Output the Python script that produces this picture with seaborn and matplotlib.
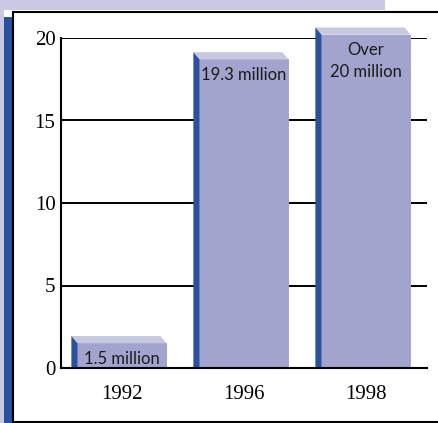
import matplotlib
matplotlib.use("Agg")
import matplotlib.pyplot as plt
from matplotlib.patches import Polygon, Rectangle
import seaborn as sns
import pandas as pd

# data
years = ["1992", "1996", "1998"]
heights = [1.5, 18.7, 20.2]          # drawn heights (millions)
bar_labels = ["1.5 million", "19.3 million", "Over\n20 million"]
y_ticks = [0, 5, 10, 15, 20]

face = "#a3a4cd"
side = "#2b519c"
top = "#c8c8e2"
lavender = "#c9c9e3"

sns.set_theme(style="white")
plt.rcParams["font.family"] = ["Liberation Serif", "DejaVu Serif"]

fig = plt.figure(figsize=(4.38, 4.23), dpi=100, facecolor="white")

# frame decoration (figure coords)
W, H = 438.0, 423.0
fig.patches.append(Rectangle((0, 0), 4 / W, 1, transform=fig.transFigure,
                             facecolor=lavender, edgecolor="none", zorder=0))
fig.patches.append(Rectangle((0, 1 - 10 / H), 385 / W, 10 / H, transform=fig.transFigure,
                             facecolor=lavender, edgecolor="none", zorder=0))
fig.patches.append(Rectangle((4 / W, 0), 8 / W, 1 - 17 / H, transform=fig.transFigure,
                             facecolor=side, edgecolor="none", zorder=1))
fig.patches.append(Rectangle((12.5 / W, 1.5 / H), 440 / W, (421 - 10.5 - 1.5) / H,
                             transform=fig.transFigure, facecolor="white",
                             edgecolor="black", linewidth=1.5, zorder=2))

ax = fig.add_axes([61 / W, 55 / H, 366 / W, 330 / H])
ax.set_facecolor("none")
ax.set_zorder(3)

df = pd.DataFrame({"year": years, "value": heights})
sns.barplot(data=df, x="year", y="value", color=face, saturation=1,
            width=0.73, linewidth=0, ax=ax, zorder=3)

ax.set_xlim(-0.5, 2.5)
ax.set_ylim(0, 20)
ax.set_yticks(y_ticks)
ax.set_xlabel("")
ax.set_ylabel("")

for y in y_ticks[1:]:
    ax.axhline(y, color="black", linewidth=1.4, zorder=1)

# 3D look: left face and top face offset up-left
dx, dy = -0.05, 0.44
for p, lab in zip(ax.patches, bar_labels):
    p.set_clip_on(False)
    x0 = p.get_x()
    w = p.get_width()
    h = p.get_height()
    top_poly = Polygon([(x0 + dx, h + dy), (x0 + w + dx, h + dy), (x0 + w, h), (x0, h)],
                       closed=True, facecolor=top, edgecolor="none", zorder=4, clip_on=False)
    side_poly = Polygon([(x0 + dx, 0), (x0 + dx, h + dy), (x0, h), (x0, 0)],
                        closed=True, facecolor=side, edgecolor="none", zorder=4, clip_on=False)
    ax.add_patch(top_poly)
    ax.add_patch(side_poly)
    ax.annotate(lab, (x0 + w / 2, h), xytext=(0, -5.5), textcoords="offset points",
                ha="center", va="top", fontsize=12, family=["Lato", "DejaVu Sans"],
                color="#1a1a1a", linespacing=1.4, zorder=5, annotation_clip=False)

for s in ["top", "right"]:
    ax.spines[s].set_visible(False)
for s in ["left", "bottom"]:
    ax.spines[s].set_color("black")
    ax.spines[s].set_linewidth(1.5)
    ax.spines[s].set_zorder(5)

ax.tick_params(axis="both", length=0, labelsize=15, colors="black")
ax.tick_params(axis="x", pad=12.5)
ax.tick_params(axis="y", pad=4)
ax.set_xticks([0.5, 1.5, 2.5], minor=True)
ax.tick_params(axis="x", which="minor", direction="in", length=6, width=1.2, color="black")

fig.savefig("out.png", dpi=100, facecolor=fig.get_facecolor())
